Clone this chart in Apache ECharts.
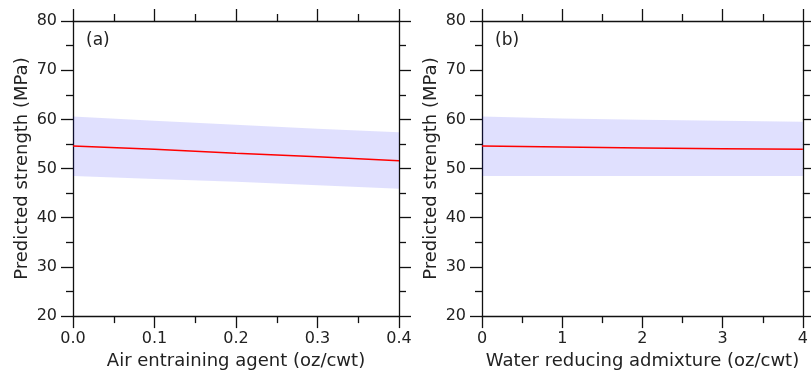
<!DOCTYPE html>
<html><head><meta charset="utf-8">
<script src="https://cdn.jsdelivr.net/npm/echarts@6/dist/echarts.min.js"></script>
<style>html,body{margin:0;padding:0;background:#fff}#c{width:811px;height:375px}</style>
</head><body><div id="c"></div>
<script>
// Panel (a): Air entraining agent
const xA = [0.0, 0.1, 0.2, 0.3, 0.4];
const meanA = [54.6, 53.9, 53.1, 52.4, 51.6];
const upperA = [60.6, 59.7, 58.9, 58.1, 57.4];
const lowerA = [48.5, 47.9, 47.3, 46.6, 45.9];
// Panel (b): Water reducing admixture
const xB = [0, 1, 2, 3, 4];
const meanB = [54.6, 54.4, 54.2, 54.05, 53.9];
const upperB = [60.6, 60.2, 59.9, 59.7, 59.5];
const lowerB = [48.5, 48.5, 48.5, 48.5, 48.5];
const yTicks = [20, 30, 40, 50, 60, 70, 80];
const panelLabels = ['(a)', '(b)'];
const xNames = ['Air entraining agent (oz/cwt)', 'Water reducing admixture (oz/cwt)'];
const yName = 'Predicted strength (MPa)';

const FONT = 'DejaVu Sans';
const TXT = '#222';
const LINE = '#111';

function pairs(xs, ys){ return xs.map((x,i)=>[x, ys[i]]); }

const grids = [
  {left:73, right:412, top:21, bottom:57},
  {left:482, right:2, top:21, bottom:57}
];
const xSpecs = [
  {min:0, max:0.4, interval:0.1, fmt:v=>v.toFixed(1)},
  {min:0, max:4, interval:1, fmt:v=>String(v)}
];

const xAxis = [], yAxis = [], series = [];
grids.forEach((g, gi) => {
  const xs = xSpecs[gi];
  const common = {
    axisLine:{show:true, onZero:false, lineStyle:{color:LINE, width:1.3}},
    axisTick:{show:true, inside:false, length:12, lineStyle:{color:LINE, width:1.3}},
    minorTick:{show:true, splitNumber:2, length:7, lineStyle:{color:LINE, width:1.3}},
    splitLine:{show:false}
  };
  xAxis.push(Object.assign({}, common, {
    type:'value', gridIndex:gi, position:'bottom', min:xs.min, max:xs.max, interval:xs.interval,
    name:xNames[gi], nameLocation:'middle', nameGap:35,
    nameTextStyle:{fontFamily:FONT, fontSize:18, color:TXT},
    axisLabel:{fontFamily:FONT, fontSize:16, color:TXT, margin:15, formatter:xs.fmt}
  }));
  xAxis.push(Object.assign({}, common, {
    type:'value', gridIndex:gi, position:'top', min:xs.min, max:xs.max, interval:xs.interval,
    axisLabel:{show:false}
  }));
  yAxis.push(Object.assign({}, common, {
    type:'value', gridIndex:gi, position:'left', min:yTicks[0], max:yTicks[yTicks.length-1], interval:10,
    name:yName, nameLocation:'middle', nameGap:42,
    nameTextStyle:{fontFamily:FONT, fontSize:18, color:TXT},
    axisLabel:{fontFamily:FONT, fontSize:16, color:TXT, margin:16}
  }));
  yAxis.push(Object.assign({}, common, {
    type:'value', gridIndex:gi, position:'right', min:yTicks[0], max:yTicks[yTicks.length-1], interval:10,
    axisLabel:{show:false}
  }));
});

const data = [
  {x:xA, m:meanA, u:upperA, l:lowerA},
  {x:xB, m:meanB, u:upperB, l:lowerB}
];
data.forEach((d, gi) => {
  const xi = gi*2, yi = gi*2;
  const rows = d.x.map((x,i)=>[x, d.l[i], d.u[i]]);
  series.push({
    type:'custom', xAxisIndex:xi, yAxisIndex:yi, data:rows, silent:true, z:1,
    encode:{x:0, y:[1,2]},
    renderItem:function(params, api){
      if (params.dataIndex !== 0) return null;
      const top = rows.map(r=>api.coord([r[0], r[2]]));
      const bot = rows.slice().reverse().map(r=>api.coord([r[0], r[1]]));
      return {type:'polygon', shape:{points: top.concat(bot)},
        style:{fill:'rgba(0,0,250,0.12)', stroke:'none'}};
    }
  });
  series.push({type:'line', xAxisIndex:xi, yAxisIndex:yi, data:pairs(d.x, d.m),
    symbol:'none', lineStyle:{color:'#ff0000', width:1.5}, z:3});
});

const graphic = panelLabels.map((t, gi) => ({
  type:'text', left: gi===0 ? 86 : 495, top: 32,
  style:{text:t, fontFamily:FONT, fontSize:17, fill:TXT}
}));

const chart = echarts.init(document.getElementById('c'), null, {renderer:'canvas'});
chart.setOption({animation:false, backgroundColor:'#fff', grid:grids, xAxis, yAxis, series, graphic});
</script></body></html>
